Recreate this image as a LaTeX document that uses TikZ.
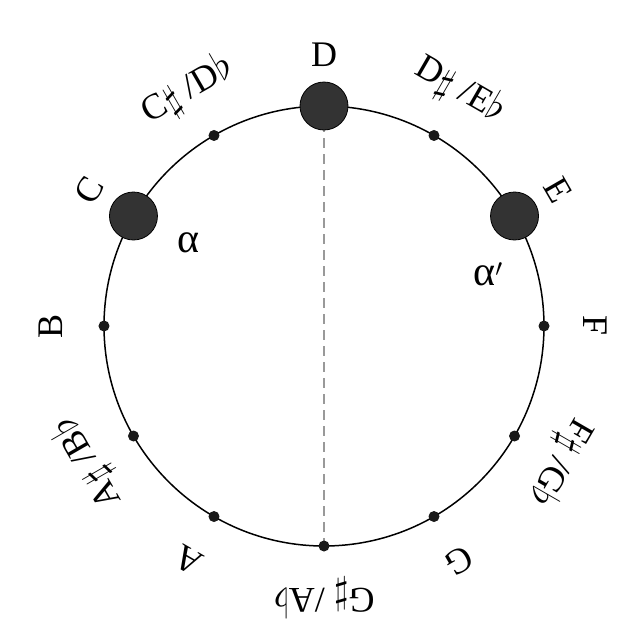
\documentclass[tikz,border=0pt]{standalone}
\usepackage{fontspec}
\usepackage{graphicx}
\setmainfont{Liberation Serif}
\newcommand{\shp}{\raisebox{-0.12em}{\resizebox*{!}{0.95em}{$\sharp$}}}
\newcommand{\flt}{\raisebox{-0.02em}{\resizebox*{!}{0.85em}{$\flat$}}}
\begin{document}
\begin{tikzpicture}[x=1pt,y=1pt,
  ring/.style={line width=1.5pt, draw=black},
  axisline/.style={line width=1.4pt, draw=black!40, dash pattern=on 10pt off 6pt},
  bigdot/.style={circle, fill=black!80, draw=black, line width=0.8pt, minimum size=48pt, inner sep=0pt},
  smalldot/.style={circle, fill=black!90, minimum size=11pt, inner sep=0pt},
  notelab/.style={font=\fontsize{36}{38}\selectfont, inner sep=0pt},
  greeklab/.style={font=\fontsize{42}{44}\selectfont, inner sep=0pt}]
\useasboundingbox (-324,-299) rectangle (316,326);
\foreach \n/\a in {D/90,Ds/60,E/30,F/0,Fs/-30,G/-60,Gs/-90,A/-120,As/-150,B/180,C/150,Cs/120}
  \coordinate (c\n) at (\a:220);
\draw[ring] (0,0) circle (220);
\draw[axisline] (cD) -- (cGs);
\foreach \n in {Ds,F,Fs,G,Gs,A,As,B,Cs}
  \node[smalldot] (p\n) at (c\n) {};
\foreach \n in {D,E,C}
  \node[bigdot] (p\n) at (c\n) {};
\node[notelab, rotate=0]    (lD)  at (90:271)   {D};
\node[notelab, rotate=-30]  (lDs) at (60:272)   {D\shp\ /E\flt};
\node[notelab, rotate=-60]  (lE)  at (30:271)   {E};
\node[notelab, rotate=-90]  (lF)  at (0:271)    {F};
\node[notelab, rotate=-120] (lFs) at (-30:272)  {F\shp\ /G\flt};
\node[notelab, rotate=-150] (lG)  at (-60:271)  {G};
\node[notelab, rotate=-180] (lGs) at (-90:272)  {G\shp\ /A\flt};
\node[notelab, rotate=-210] (lA)  at (-120:271) {A};
\node[notelab, rotate=-240] (lAs) at (-150:272) {A\shp\ /B\flt};
\node[notelab, rotate=90]   (lB)  at (180:273)  {B};
\node[notelab, rotate=60]   (lC)  at (150:271)  {C};
\node[notelab, rotate=30]   (lCs) at (120:272)  {C\shp\ /D\flt};
\node[greeklab] (alpha)  at (-135,83)  {α};
\node[greeklab] (alphap) at (164,52)   {α$'$};
\end{tikzpicture}
\end{document}
